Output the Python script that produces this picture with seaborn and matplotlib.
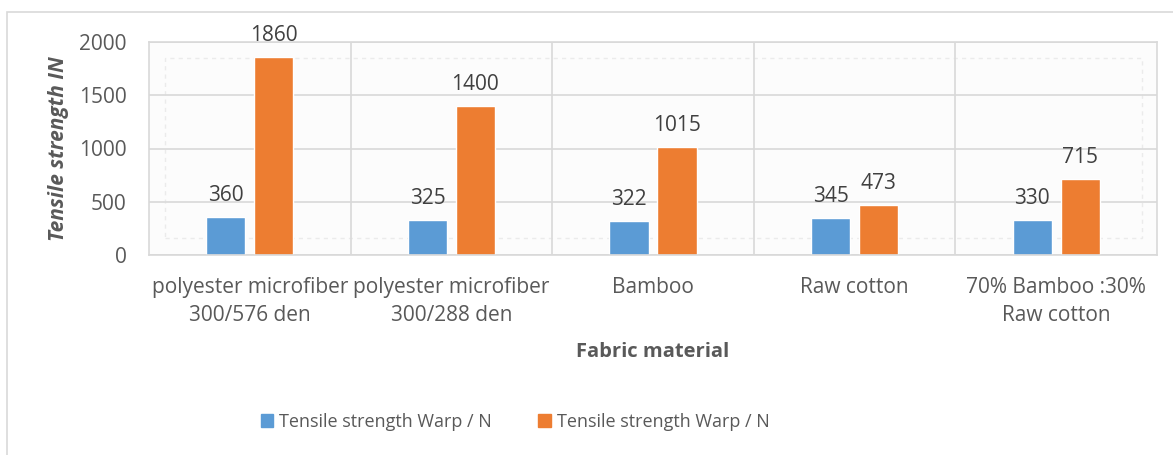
import pandas as pd
import numpy as np
import matplotlib
matplotlib.use("Agg")
import matplotlib.pyplot as plt
import seaborn as sns
from matplotlib.patches import Rectangle, Patch

# data
materials = ["polyester microfiber\n300/576 den", "polyester microfiber\n300/288 den",
             "Bamboo", "Raw cotton", "70% Bamboo :30%\nRaw cotton"]
warp_a = [360, 325, 322, 345, 330]
warp_b = [1860, 1400, 1015, 473, 715]
series_keys = ["s1", "s2"]
legend_labels = ["Tensile strength Warp / N", "Tensile strength Warp / N"]
colors = ["#5b9bd5", "#ed7d31"]

df = pd.DataFrame({
    "material": materials * 2,
    "series": [series_keys[0]] * 5 + [series_keys[1]] * 5,
    "value": warp_a + warp_b,
})

sns.set_theme(style="white")
plt.rcParams["font.family"] = ["Open Sans", "DejaVu Sans"]
txt = "#595959"
grid = "#d9d9d9"
fs = 15

fig = plt.figure(figsize=(11.73, 4.55), dpi=100)
ax = fig.add_axes([149/1173, 1-255/455, (1157-149)/1173, (255-42)/455])
ax.set_facecolor("#fcfcfc")

sns.barplot(data=df, x="material", y="value", hue="series", order=materials,
            hue_order=series_keys, palette=colors, width=0.475, gap=0.18,
            saturation=1, ax=ax, legend=False, errorbar=None)

ax.set_ylim(0, 2000)
ax.set_xlim(-0.5, 4.5)
ax.set_yticks([0, 500, 1000, 1500, 2000])
ax.grid(axis="y", color=grid, lw=1.2)
for xv in np.arange(0.5, 4.5, 1):
    ax.axvline(xv, color=grid, lw=1.2)
ax.set_axisbelow(True)
for s in ax.spines.values():
    s.set_color(grid)
    s.set_linewidth(1.2)

# faint back wall
ax.add_patch(Rectangle((-0.42, 160), 4.845, 1690, fill=False, ls=(0, (3, 3)),
                       ec="#ebebeb", lw=1, zorder=0.5))

for container in ax.containers:
    ax.bar_label(container, fmt="%d", padding=8, color="#404040", fontsize=fs)

ax.tick_params(axis="both", length=0, colors=txt, labelsize=fs)
ax.tick_params(axis="y", pad=16)
ax.tick_params(axis="x", pad=16)
for lab in ax.get_xticklabels():
    lab.set_linespacing(1.4)
ax.set_xlabel("Fabric material", color=txt, fontsize=14.5, fontweight="bold", labelpad=12)
ax.set_ylabel("Tensile strength IN", color=txt, fontsize=fs, fontweight="bold",
              style="italic", labelpad=7)

handles = [Patch(color=c) for c in colors]
fig.legend(handles, legend_labels, loc="center", bbox_to_anchor=(515/1173, 1-422/455),
           ncol=2, frameon=False, fontsize=13, labelcolor=txt, handlelength=0.7,
           handleheight=0.7, columnspacing=2.6, handletextpad=0.3)

# outer chart frame
fig.patches.append(Rectangle((7/1173, -0.05), 1.1, 1-12/455+0.05, transform=fig.transFigure,
                             fill=False, ec=grid, lw=1.2))

fig.savefig("out.png", dpi=100)
